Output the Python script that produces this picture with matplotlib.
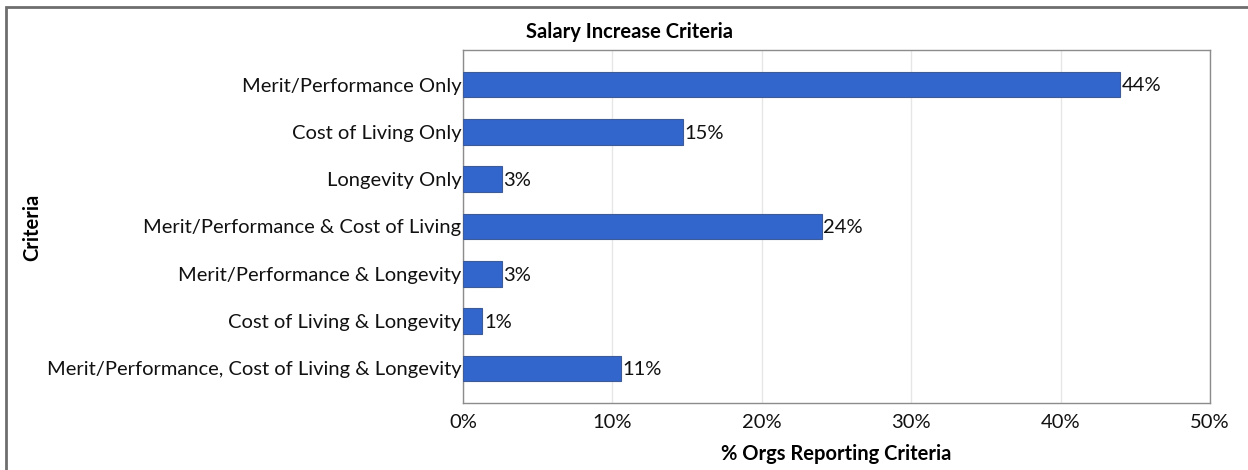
import matplotlib
matplotlib.use("Agg")
import matplotlib.pyplot as plt
from matplotlib.patches import Rectangle
from matplotlib.ticker import FuncFormatter

plt.rcParams['font.family'] = ['Lato', 'DejaVu Sans']

criteria = [
    "Merit/Performance Only",
    "Cost of Living Only",
    "Longevity Only",
    "Merit/Performance & Cost of Living",
    "Merit/Performance & Longevity",
    "Cost of Living & Longevity",
    "Merit/Performance, Cost of Living & Longevity",
]
pct = [44.0, 14.7, 2.6, 24.0, 2.6, 1.3, 10.6]
xticks = [0, 10, 20, 30, 40, 50]

FS = 14.5
W, H = 1248, 470
fig = plt.figure(figsize=(W / 100, H / 100), dpi=100)
ax = fig.add_axes([463 / W, 1 - 403 / H, (1210 - 463) / W, (403 - 50) / H])

pos = list(range(len(criteria)))
ax.barh(pos, pct, height=0.54, color="#3366cc", edgecolor="#3d5a99",
        linewidth=0.8, zorder=3)
for y, v in zip(pos, pct):
    ax.text(v + 0.1, y + 0.03, f"{v:.0f}%", va="center", ha="left",
            fontsize=FS, color="#111111")

ax.set_xlim(0, 50)
ax.set_ylim(len(criteria) - 0.27, -0.73)
ax.set_yticks(pos)
ax.set_yticklabels(criteria, fontsize=FS, color="#111111")
ax.set_xticks(xticks)
ax.xaxis.set_major_formatter(FuncFormatter(lambda x, _: f"{x:.0f}%"))
ax.tick_params(axis="x", labelsize=FS, colors="#111111", length=0, pad=8)
ax.tick_params(axis="y", length=0, pad=1)
ax.grid(axis="x", color="#e6e6e6", linewidth=1, zorder=0)
for s in ax.spines.values():
    s.set_color("#8c8c8c")
    s.set_linewidth(1)

ax.set_xlabel("% Orgs Reporting Criteria", fontsize=FS, fontweight="bold",
              labelpad=9)
fig.text(32 / W, 1 - 227 / H, "Criteria", rotation=90, fontsize=FS,
         fontweight="bold", ha="center", va="center")
fig.text(629 / W, 1 - 32 / H, "Salary Increase Criteria", fontsize=FS,
         fontweight="bold", ha="center", va="center")

# outer frame
fig.patches.append(Rectangle((6 / W, -0.1), 1.2, 1 - 7 / H + 0.1,
                             transform=fig.transFigure, fill=False,
                             edgecolor="#6e6e6e", linewidth=2))

fig.savefig("out.png", dpi=100)
